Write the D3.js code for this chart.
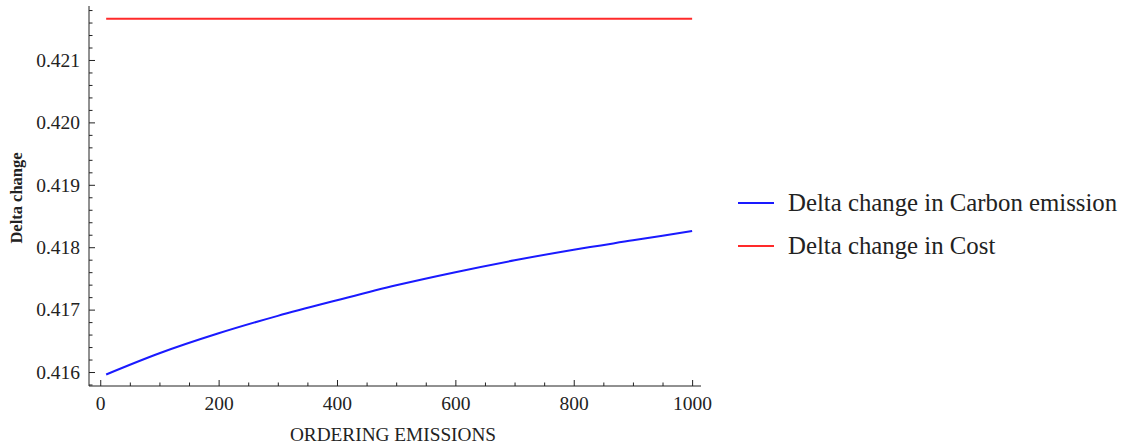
<!DOCTYPE html>
<html>
<head>
<meta charset="utf-8">
<script src="https://cdn.jsdelivr.net/npm/d3@7"></script>
<style>
  html, body { margin: 0; padding: 0; background: #fff; }
  svg { display: block; }
  text { font-family: "Liberation Serif", "Times New Roman", serif; fill: #222; }
</style>
</head>
<body>
<svg id="chart" width="1129" height="447"></svg>
<script>
// Ordering emissions (x) sampled along the curves
const orderingEmissions = [10, 100, 200, 300, 400, 500, 600, 700, 800, 900, 1000];
// Delta change in carbon emission
const carbonDelta = [0.41596, 0.41630, 0.41662, 0.41690, 0.41715, 0.41739, 0.41760, 0.41779, 0.41796, 0.41811, 0.41826];
// Delta change in cost (flat)
const costDelta = [0.42166, 0.42166, 0.42166, 0.42166, 0.42166, 0.42166, 0.42166, 0.42166, 0.42166, 0.42166, 0.42166];

const xTicks = [0, 200, 400, 600, 800, 1000];
const yTicks = [0.416, 0.417, 0.418, 0.419, 0.420, 0.421];
const seriesNames = ["Delta change in Carbon emission", "Delta change in Cost"];
const seriesColors = ["#1a1aff", "#ff2a2a"];

const svg = d3.select("#chart");

const x = d3.scaleLinear().domain([-19, 1015]).range([89, 701]);
const y = d3.scaleLinear().domain([0.415776, 0.421865]).range([386, 6]);

const axisColor = "#222";
const serif = '"Liberation Serif", "Times New Roman", serif';

// Y axis: major ticks with labels, minor ticks every 0.0002
const yMinor = d3.range(0.4158, 0.42185, 0.0002).filter(v => !yTicks.some(t => Math.abs(t - v) < 1e-7));
const gyMinor = svg.append("g").attr("transform", `translate(${x(-19)},0)`)
  .call(d3.axisLeft(y).tickValues(yMinor).tickSize(-3.5).tickFormat(""));
gyMinor.select(".domain").remove();
gyMinor.selectAll("line").attr("stroke", axisColor);

const gy = svg.append("g").attr("transform", `translate(${x(-19)},0)`)
  .call(d3.axisLeft(y).tickValues(yTicks).tickSize(-6).tickPadding(9).tickFormat(d3.format(".3f")));
gy.select(".domain").attr("stroke", axisColor).attr("d", `M0,${y.range()[0]}V${y.range()[1]}`);
gy.selectAll("line").attr("stroke", axisColor);
gy.selectAll("text").attr("font-size", 19.5).attr("font-family", serif).attr("fill", "#222");

// X axis: major ticks with labels, minor ticks every 50
const xMinor = d3.range(50, 1000, 50).filter(v => v % 200 !== 0);
const gxMinor = svg.append("g").attr("transform", `translate(0,${y(0.415776)})`)
  .call(d3.axisBottom(x).tickValues(xMinor).tickSize(-3.5).tickFormat(""));
gxMinor.select(".domain").remove();
gxMinor.selectAll("line").attr("stroke", axisColor);

const gx = svg.append("g").attr("transform", `translate(0,${y(0.415776)})`)
  .call(d3.axisBottom(x).tickValues(xTicks).tickSize(-6).tickPadding(10).tickFormat(d3.format("d")));
gx.select(".domain").attr("stroke", axisColor).attr("d", `M${x.range()[0]},0H${x.range()[1]}`);
gx.selectAll("line").attr("stroke", axisColor);
gx.selectAll("text").attr("font-size", 19.5).attr("font-family", serif).attr("fill", "#222");

// Axis titles
svg.append("text")
  .attr("x", 393).attr("y", 441)
  .attr("text-anchor", "middle")
  .attr("font-size", 19.3)
  .text("ORDERING EMISSIONS");

svg.append("text")
  .attr("transform", "translate(22,198) rotate(-90)")
  .attr("text-anchor", "middle")
  .attr("font-size", 16.5)
  .attr("font-weight", "bold")
  .text("Delta change");

// Curves
const line = d3.line()
  .x((d, i) => x(orderingEmissions[i]))
  .y(d => y(d))
  .curve(d3.curveMonotoneX);

[carbonDelta, costDelta].forEach((vals, k) => {
  svg.append("path")
    .datum(vals)
    .attr("d", line)
    .attr("fill", "none")
    .attr("stroke", seriesColors[k])
    .attr("stroke-width", 2);
});

// Legend
const legend = svg.append("g");
seriesNames.forEach((name, k) => {
  const ly = 203 + k * 43;
  legend.append("line")
    .attr("x1", 738).attr("x2", 774)
    .attr("y1", ly).attr("y2", ly)
    .attr("stroke", seriesColors[k])
    .attr("stroke-width", 2);
  legend.append("text")
    .attr("x", 788).attr("y", ly)
    .attr("dy", "0.33em")
    .attr("font-size", 24.8)
    .text(name);
});
</script>
</body>
</html>
